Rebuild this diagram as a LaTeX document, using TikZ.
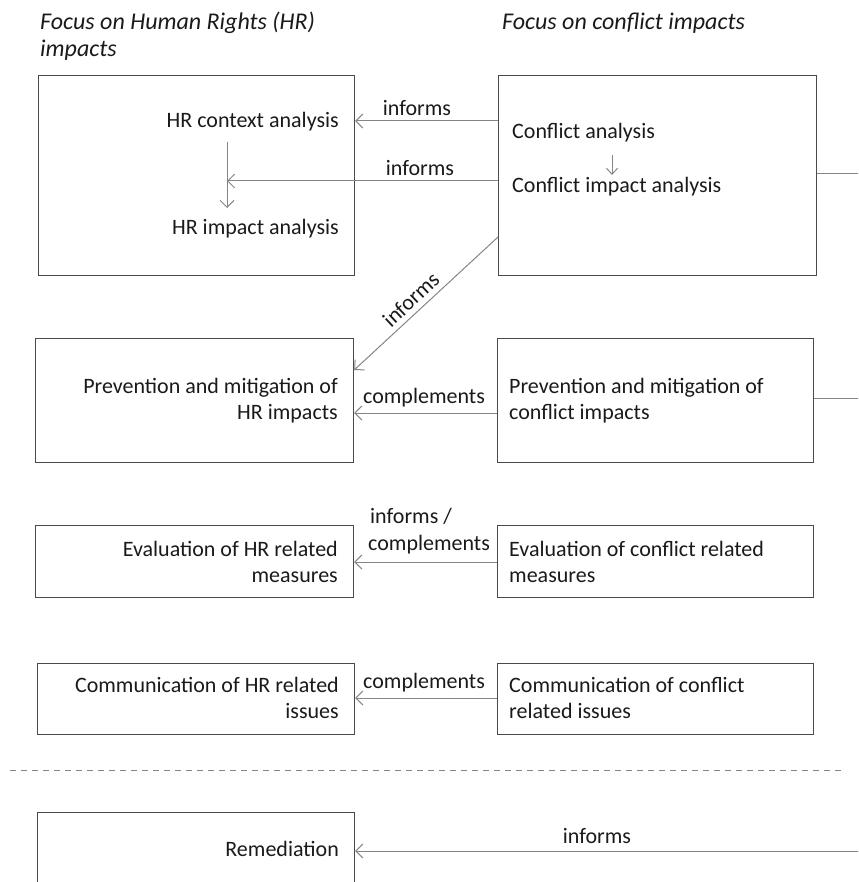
\documentclass[tikz,border=0pt]{standalone}
\usepackage{fontspec}
\setmainfont{Carlito}
\usetikzlibrary{arrows.meta}
\definecolor{boxc}{HTML}{4A4A4A}
\definecolor{linec}{HTML}{858585}
\definecolor{txtc}{HTML}{1A1A1A}
\begin{document}
\begin{tikzpicture}[x=1pt,y=-1pt,
  box/.style={draw=boxc, line width=1.2pt, inner sep=0pt, anchor=north west},
  lbl/.style={inner sep=0pt, font=\fontsize{22}{26}\selectfont, text=txtc},
  ttl/.style={lbl, font=\fontsize{24}{27}\selectfont\itshape},
  conn/.style={draw=linec, line width=1pt, -{Straight Barb[length=7pt,width=14pt,line width=1pt]}},
  plainline/.style={draw=linec, line width=1pt},
  sepline/.style={draw=linec, line width=1pt, dash pattern=on 6pt off 5pt},
]
\useasboundingbox (0,0) rectangle (858,882);
\clip (0,0) rectangle (858,882);

% titles
\node[ttl, anchor=base west] (t1a) at (40,30) {Focus on Human Rights (HR)};
\node[ttl, anchor=base west] (t1b) at (40,57) {impacts};
\node[ttl, anchor=base west] (t2) at (502,30) {Focus on conflict impacts};

% boxes
\node[box, minimum width=316pt, minimum height=200pt] (bA) at (38,75) {};
\node[box, minimum width=318pt, minimum height=200pt] (bB) at (498,75) {};
\node[box, minimum width=318pt, minimum height=124pt] (bC) at (35,338) {};
\node[box, minimum width=316pt, minimum height=124pt] (bD) at (497,338) {};
\node[box, minimum width=318pt, minimum height=72pt] (bE) at (35,525) {};
\node[box, minimum width=316pt, minimum height=72pt] (bF) at (497,525) {};
\node[box, minimum width=317pt, minimum height=71pt] (bG) at (37,663) {};
\node[box, minimum width=316pt, minimum height=71pt] (bH) at (497,663) {};
\node[box, minimum width=317pt, minimum height=100pt] (bI) at (37,812) {};

% box texts
\node[lbl, anchor=base east] (tA1) at (339,128) {HR context analysis};
\node[lbl, anchor=base east] (tA2) at (339,235) {HR impact analysis};
\node[lbl, anchor=base west] (tB1) at (512,139) {Conflict analysis};
\node[lbl, anchor=base west] (tB2) at (512,193) {Conflict impact analysis};
\node[lbl, anchor=base east] (tC1) at (338,393) {Prevention and mitigation of};
\node[lbl, anchor=base east] (tC2) at (338,419) {HR impacts};
\node[lbl, anchor=base west] (tD1) at (509,393) {Prevention and mitigation of};
\node[lbl, anchor=base west] (tD2) at (509,419) {conflict impacts};
\node[lbl, anchor=base east] (tE1) at (338,556) {Evaluation of HR related};
\node[lbl, anchor=base east] (tE2) at (338,582) {measures};
\node[lbl, anchor=base west] (tF1) at (509,556) {Evaluation of conflict related};
\node[lbl, anchor=base west] (tF2) at (509,582) {measures};
\node[lbl, anchor=base east] (tG1) at (339,692) {Communication of HR related};
\node[lbl, anchor=base east] (tG2) at (339,718) {issues};
\node[lbl, anchor=base west] (tH1) at (509,692) {Communication of conflict};
\node[lbl, anchor=base west] (tH2) at (509,718) {related issues};
\node[lbl, anchor=base east] (tI) at (339,856) {Remediation};

% helper coordinates
\coordinate (vA) at (227,0);
\coordinate (y1) at (0,121);
\coordinate (y2) at (0,181);
\coordinate (yR1) at (0,174);
\coordinate (yR2) at (0,398);
\coordinate (d1) at (0,237);
\coordinate (d2) at (0,370);
\coordinate (y3) at (0,413);
\coordinate (y4) at (0,562);
\coordinate (y5) at (0,698);
\coordinate (y6) at (0,851);
\coordinate (vA1) at (227,142);
\coordinate (vA2) at (227,208);
\coordinate (vB1) at (612,155);
\coordinate (vB2) at (612,175);
\coordinate (edgeR) at (870,0);
\coordinate (dashL) at (10,770);
\coordinate (dashR) at (845,770);

% inner arrows
\draw[conn] (vA1) -- (vA2);
\draw[conn, -{Straight Barb[length=6pt,width=11pt,line width=1pt]}] (vB1) -- (vB2);

% connectors
\draw[conn] (bB.west |- y1) -- (bA.east |- y1);
\node[lbl, anchor=base] (l1) at (417,116) {informs};
\draw[conn] (bB.west |- y2) -- (vA |- y2);
\node[lbl, anchor=base] (l2) at (420,176) {informs};
\draw[plainline] (bB.east |- yR1) -- (edgeR |- yR1);

\draw[conn] (bB.west |- d1) -- (bC.east |- d2);
\node[lbl, anchor=base, rotate=43] (l3) at (416,305) {informs};

\draw[conn] (bD.west |- y3) -- (bC.east |- y3);
\node[lbl, anchor=base] (l4) at (424,403) {complements};
\draw[plainline] (bD.east |- yR2) -- (edgeR |- yR2);

\draw[conn] (bF.west |- y4) -- (bE.east |- y4);
\node[lbl, anchor=base west] (l5a) at (370,523) {informs /};
\node[lbl, anchor=base west] (l5b) at (368,550) {complements};

\draw[conn] (bH.west |- y5) -- (bG.east |- y5);
\node[lbl, anchor=base west] (l6) at (363,688) {complements};

\draw[sepline] (dashL) -- (dashR);

\draw[conn] (edgeR |- y6) -- (bI.east |- y6);
\node[lbl, anchor=base] (l7) at (597,843) {informs};
\end{tikzpicture}
\end{document}
